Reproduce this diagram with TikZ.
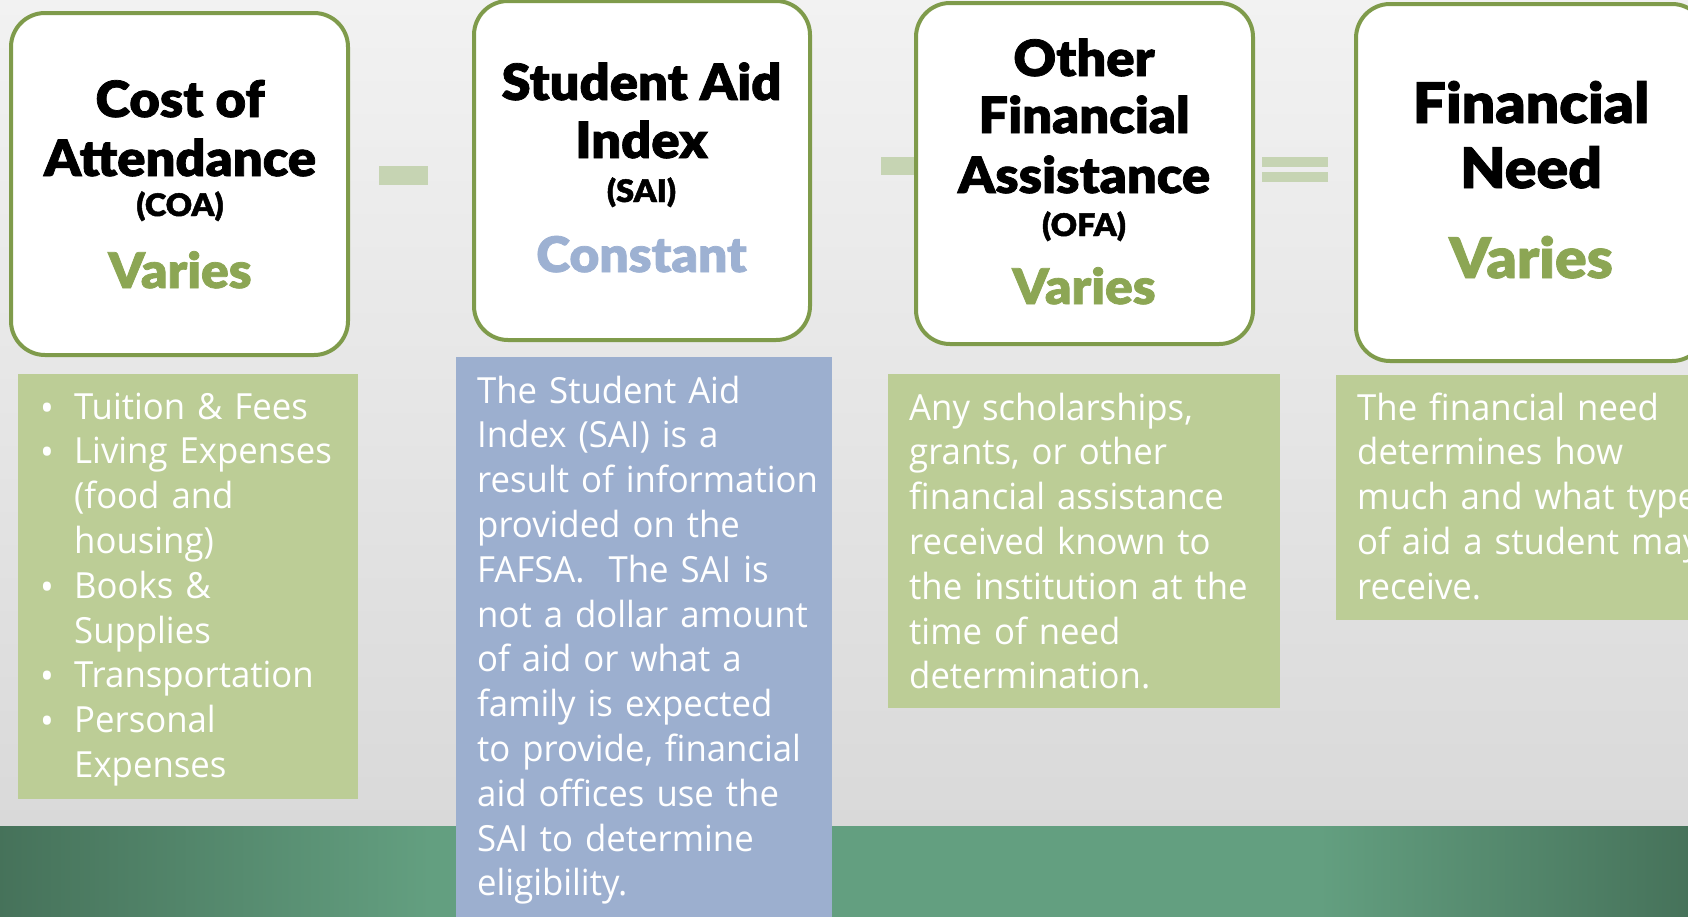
\documentclass[tikz,border=0pt]{standalone}
\usepackage{fontspec}
\setmainfont{Open Sans}[FakeStretch=0.965]
\IfFontExistsTF{Lato Black}
  {\newfontfamily\headfont{Lato Black}[FakeStretch=1.05, FakeBold=1.5]}
  {\newfontfamily\headfont{Open Sans ExtraBold}}
\definecolor{boxline}{HTML}{7F9B4B}
\definecolor{variesgreen}{HTML}{8CA654}
\definecolor{constblue}{HTML}{9DB1D2}
\definecolor{listgreen}{HTML}{BCCD96}
\definecolor{infoblue}{HTML}{9CAFCF}
\definecolor{opgreen}{HTML}{C6D4B3}
\definecolor{bandgreen}{HTML}{639F80}
\definecolor{banddark}{HTML}{46725A}
\definecolor{bgtop}{HTML}{F2F2F2}
\definecolor{bgbottom}{HTML}{D9D9D9}
\newcommand\itm{\leavevmode\llap{\raisebox{-2pt}{\fontsize{38}{38}\selectfont •}\hspace{20pt}}}
\tikzset{
  headbox/.style={draw=boxline, line width=4pt, fill=white, rounded corners=34pt, inner sep=0pt},
  headtext/.style={anchor=base, inner sep=0pt, font=\headfont\fontsize{50}{50}\selectfont},
  abbrtext/.style={headtext, font=\headfont\fontsize{31}{31}\selectfont},
  amount/.style={headtext, font=\headfont\fontsize{49}{49}\selectfont, text=variesgreen},
  infobox/.style={fill=#1, inner sep=0pt},
  infotext/.style={anchor=base west, inner sep=0pt, text=white, text width=#1, align=left,
    font=\fontsize{36}{44.8}\selectfont},
  opbar/.style={fill=opgreen}
}

\begin{document}
\begin{tikzpicture}[x=1pt,y=-1pt]
\useasboundingbox (0,0) rectangle (1688,916);
\clip (0,0) rectangle (1688,916);
\fill[top color=bgtop, bottom color=bgbottom] (-2,-2) rectangle (1690,826);
\fill[left color=banddark, right color=bandgreen] (-2,826) rectangle (430,920);
\fill[bandgreen] (429,826) rectangle (1320,920);
\fill[left color=bandgreen, right color=banddark] (1319,826) rectangle (1690,920);

\fill[opbar] (379,166) rectangle (428,185);
\fill[opbar] (881,157) rectangle (930,175);
\fill[opbar] (1262,157) rectangle (1328,167);
\fill[opbar] (1262,172) rectangle (1328,182);

\node[headbox, minimum width=337pt, minimum height=342pt] (coa) at (179.5,184) {};
\node[headbox, minimum width=336pt, minimum height=339pt] (sai) at (642,170.5) {};
\node[headbox, minimum width=337pt, minimum height=341pt] (ofa) at (1084.5,173.5) {};
\node[headbox, minimum width=350pt, minimum height=357pt] (need) at (1531,182.5) {};

\node[headtext] (coa1) at (180,117) {Cost of};
\node[headtext] (coa2) at (180,176) {Attendance};
\node[abbrtext] (coa3) at (180,216) {(COA)};
\node[amount] (coa4) at (180,288) {Varies};

\node[headtext] (sai1) at (641.5,100) {Student Aid};
\node[headtext] (sai2) at (641.5,158) {Index};
\node[abbrtext] (sai3) at (641.5,202) {(SAI)};
\node[amount, text=constblue] (sai4) at (641.5,272) {Constant};

\node[headtext] (ofa1) at (1084,76) {Other};
\node[headtext] (ofa2) at (1084,133) {Financial};
\node[headtext] (ofa3) at (1084,193) {Assistance};
\node[abbrtext] (ofa4) at (1084,236) {(OFA)};
\node[amount] (ofa5) at (1084,304) {Varies};

\node[headtext, font=\headfont\fontsize{56}{56}\selectfont] (need1) at (1531,123) {Financial};
\node[headtext, font=\headfont\fontsize{56}{56}\selectfont] (need2) at (1531,188) {Need};
\node[amount, font=\headfont\fontsize{56}{56}\selectfont] (need3) at (1531,278) {Varies};

\node[infobox=listgreen, minimum width=340pt, minimum height=425pt] (coabox) at (188,586.5) {};
\node[infobox=infoblue, minimum width=376pt, minimum height=566pt] (saibox) at (644,640) {};
\node[infobox=listgreen, minimum width=392pt, minimum height=334pt] (ofabox) at (1084,541) {};
\node[infobox=listgreen, minimum width=364pt, minimum height=245pt] (needbox) at (1518,497.5) {};

\node[infotext=300pt] (coalist) at (74,419) {\itm Tuition \& Fees\\ \itm Living Expenses\\ (food and\\ housing)\\
  \itm Books \&\\ Supplies\\ \itm Transportation\\ \itm Personal\\ Expenses};
\node[infotext=380pt] (saitext) at (477,403) {The Student Aid\\ Index (SAI) is a\\ result of information\\
  provided on the\\ FAFSA.~ The SAI is\\ not a dollar amount\\ of aid or what a\\ family is expected\\
  to provide, financial\\ aid offices use the\\ SAI to determine\\ eligibility.};
\node[infotext=400pt] (ofatext) at (909,420) {Any scholarships,\\ grants, or other\\ financial assistance\\
  received known to\\ the institution at the\\ time of need\\ determination.};
\node[infotext=400pt] (needtext) at (1357,420) {The financial need\\ determines how\\ much and what type\\
  of aid a student may\\ receive.};
\end{tikzpicture}
\end{document}
